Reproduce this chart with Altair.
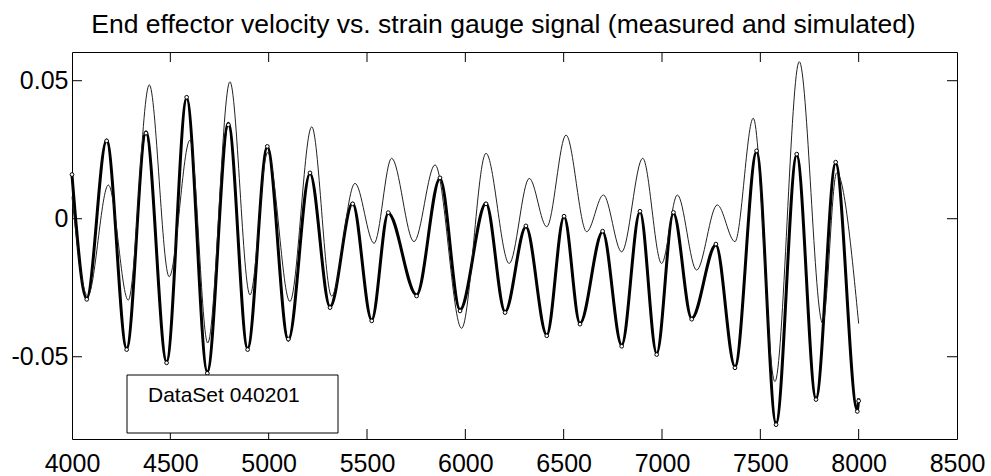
import altair as alt
import pandas as pd

# ---- data ----
meas_x = [4000, 4075, 4176, 4278, 4376, 4481, 4583, 4688, 4795, 4893, 4993,
          5100, 5210, 5312, 5427, 5524, 5608, 5752, 5871, 5973, 6105,
          6202, 6308, 6414, 6502, 6583, 6698, 6795, 6888, 6973, 7058,
          7151, 7274, 7371, 7481, 7580, 7685, 7783, 7883, 7993, 8000]
meas_y = [0.0158, -0.0288, 0.0285, -0.0470, 0.0315, -0.0518, 0.0436, -0.0554, 0.0346, -0.0470, 0.0260,
          -0.0440, 0.0164, -0.0319, 0.0056, -0.0367, 0.0020, -0.0276, 0.0146, -0.0330, 0.0056,
          -0.0337, -0.0029, -0.0421, 0.0007, -0.0379, -0.0047, -0.0458, 0.0025, -0.0488, 0.0020,
          -0.0361, -0.0095, -0.0536, 0.0243, -0.0741, 0.0231, -0.0651, 0.0201, -0.0693, -0.0651]

sim_x = meas_x
sim_y = [0.0160, -0.0292, 0.0282, -0.0474, 0.0310, -0.0522, 0.0440, -0.0560, 0.0340, -0.0474, 0.0262,
         -0.0436, 0.0166, -0.0322, 0.0054, -0.0370, 0.0022, -0.0280, 0.0148, -0.0334, 0.0054,
         -0.0340, -0.0026, -0.0424, 0.0009, -0.0382, -0.0045, -0.0462, 0.0027, -0.0492, 0.0023,
         -0.0364, -0.0092, -0.0540, 0.0246, -0.0746, 0.0234, -0.0655, 0.0205, -0.0698, -0.0660]

strain_x = [4000, 4080, 4185, 4286, 4393, 4494, 4600, 4690, 4803, 4905, 4995,
            5108, 5219, 5320, 5439, 5536, 5625, 5739, 5846, 5981, 6105,
            6223, 6325, 6414, 6512, 6617, 6702, 6795, 6902, 6998, 7078,
            7176, 7281, 7371, 7464, 7574, 7698, 7817, 7888, 8000]
strain_y = [0.0080, -0.0280, 0.0122, -0.0295, 0.0485, -0.0210, 0.0285, -0.0450, 0.0496, -0.0276, 0.0240,
            -0.0300, 0.0333, -0.0280, 0.0128, -0.0089, 0.0219, -0.0083, 0.0195, -0.0397, 0.0237,
            -0.0162, 0.0146, -0.0029, 0.0303, -0.0047, 0.0086, -0.0120, 0.0219, -0.0162, 0.0086,
            -0.0186, 0.0050, -0.0083, 0.0364, -0.0590, 0.0569, -0.0379, 0.0166, -0.0380]

x_ticks = [4000, 4500, 5000, 5500, 6000, 6500, 7000, 7500, 8000, 8500]
y_ticks = [-0.05, 0, 0.05]
y_tick_labels = ["-0.05", "0", "0.05"]
title_text = "End effector velocity vs. strain gauge signal (measured and simulated)"
legend_text = "DataSet 040201"

FONT = "Liberation Sans"
W, H = 885, 387

meas = pd.DataFrame({"x": meas_x, "y": meas_y})
sim = pd.DataFrame({"x": sim_x, "y": sim_y})
strain = pd.DataFrame({"x": strain_x, "y": strain_y})

xscale = alt.Scale(domain=[4000, 8500], nice=False, zero=False)
yscale = alt.Scale(domain=[-0.0798, 0.0604], nice=False, zero=False)

lab_expr = " : ".join(
    f"abs(datum.value - ({v})) < 1e-6 ? '{l}'" for v, l in zip(y_ticks, y_tick_labels)
) + " : ''"

xaxis = alt.Axis(values=x_ticks, ticks=False, domain=False, grid=False,
                 labelFont=FONT, labelFontSize=25, labelColor="black",
                 labelPadding=12, labelFlush=False, labelOverlap=False, title=None,
                 format="d")
yaxis = alt.Axis(values=y_ticks, ticks=False, domain=False, grid=False,
                 labelFont=FONT, labelFontSize=25, labelColor="black",
                 labelPadding=4, labelExpr=lab_expr, title=None, labelOverlap=False)

X = alt.X("x:Q", scale=xscale, axis=xaxis)
Y = alt.Y("y:Q", scale=yscale, axis=yaxis)

measured = alt.Chart(meas).mark_line(
    color="black", strokeWidth=3, interpolate="monotone"
).encode(x=X, y=Y)

strain_line = alt.Chart(strain).mark_line(
    color="#222222", strokeWidth=1, interpolate="monotone"
).encode(x=X, y=Y)

sim_line = alt.Chart(sim).mark_line(
    color="black", strokeWidth=1, interpolate="monotone"
).encode(x=X, y=Y)

sim_pts = alt.Chart(sim).mark_point(
    shape="circle", filled=True, fill="white", stroke="black",
    strokeWidth=1, size=14, opacity=1
).encode(x=X, y=Y)

xt = pd.DataFrame({"x": x_ticks[1:-1]})
yt = pd.DataFrame({"y": y_ticks})

tick_bottom = alt.Chart(xt).mark_rule(color="black", strokeWidth=1).encode(
    x=X, y=alt.value(H), y2=alt.value(H - 10))
tick_top = alt.Chart(xt).mark_rule(color="black", strokeWidth=1).encode(
    x=X, y=alt.value(0), y2=alt.value(10))
tick_left = alt.Chart(yt).mark_rule(color="black", strokeWidth=1).encode(
    y=Y, x=alt.value(0), x2=alt.value(10))
tick_right = alt.Chart(yt).mark_rule(color="black", strokeWidth=1).encode(
    y=Y, x=alt.value(W), x2=alt.value(W - 10))

one = pd.DataFrame({"t": [legend_text]})
legend_box = alt.Chart(one).mark_rect(
    fill="white", stroke="black", strokeWidth=1
).encode(x=alt.value(55), x2=alt.value(266), y=alt.value(323), y2=alt.value(381))
legend_lbl = alt.Chart(one).mark_text(
    font=FONT, fontSize=21, color="black", align="left", baseline="middle"
).encode(x=alt.value(76), y=alt.value(344), text="t:N")

chart = alt.layer(
    measured, strain_line, sim_line, sim_pts,
    tick_bottom, tick_top, tick_left, tick_right,
    legend_box, legend_lbl
).properties(
    width=W, height=H,
    title=alt.TitleParams(title_text, font=FONT, fontSize=26.5, fontWeight="normal",
                          color="black", anchor="middle", baseline="alphabetic",
                          offset=17, dx=-11, dy=25),
    autosize=alt.AutoSizeParams(type="none"),
    padding={"left": 72, "top": 52, "right": 34, "bottom": 37},
    background="white"
).configure_view(stroke="black", strokeWidth=1)

chart.save("out.html", embed_options={"renderer": "svg", "actions": False})
